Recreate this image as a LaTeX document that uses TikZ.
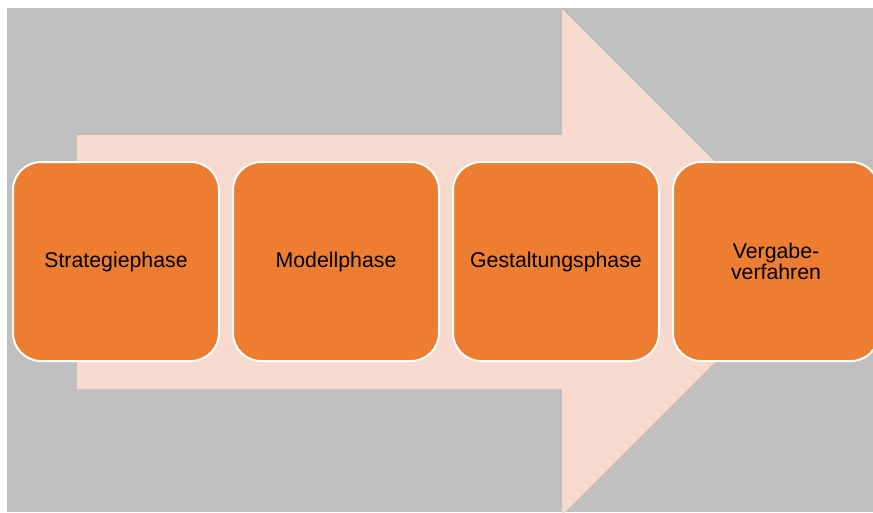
\documentclass[tikz,border=0pt]{standalone}
\usepackage{fontspec}
\setmainfont{Liberation Sans}
\definecolor{bggray}{HTML}{BFBFBF}
\definecolor{arrowpink}{HTML}{F8D9CE}
\definecolor{boxorange}{HTML}{ED7D31}
\begin{document}
\begin{tikzpicture}[x=1pt,y=-1pt,
  phasebox/.style={draw=white, line width=2pt, fill=boxorange, rounded corners=28pt,
    minimum width=206pt, minimum height=199pt, inner sep=0pt, align=center,
    font=\fontsize{21.3}{19.5}\selectfont, text=black}]
\useasboundingbox (0,0) rectangle (873,512);
\clip (0,0) rectangle (873,512);
\fill[bggray] (7,8) rectangle (873,512);
\fill[arrowpink] (77,135) -- (562,135) -- (562,9) -- (815,262) -- (562,515) -- (562,389) -- (77,389) -- cycle;
\node[phasebox] (p1) at (116,261.5) {\raisebox{-1.5pt}{Strategiephase}};
\node[phasebox] (p2) at (336,261.5) {\raisebox{-1.5pt}{Modellphase}};
\node[phasebox] (p3) at (556,261.5) {\raisebox{-1.5pt}{Gestaltungsphase}};
\node[phasebox] (p4) at (776,261.5) {Vergabe-\\verfahren};
\end{tikzpicture}
\end{document}
